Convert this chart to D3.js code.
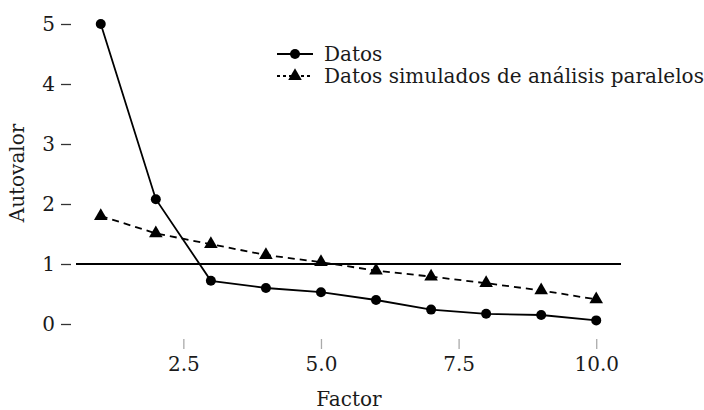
<!DOCTYPE html>
<html>
<head>
<meta charset="utf-8">
<script src="https://cdn.jsdelivr.net/npm/d3@7"></script>
<style>
  body { margin: 0; background: #fff; }
  text { font-family: "DejaVu Serif", serif; fill: #1a1a1a; }
</style>
</head>
<body>
<div id="chart"></div>
<script>
// chart data
const factors = [1, 2, 3, 4, 5, 6, 7, 8, 9, 10];
const datos = [5.0, 2.08, 0.72, 0.6, 0.53, 0.4, 0.24, 0.17, 0.15, 0.06];
const simulados = [1.8, 1.51, 1.33, 1.15, 1.03, 0.89, 0.79, 0.68, 0.56, 0.41];
const xTicks = [2.5, 5.0, 7.5, 10.0];
const yTicks = [0, 1, 2, 3, 4, 5];
const seriesNames = ["Datos", "Datos simulados de análisis paralelos"];
const criterio = 1;

const w = 704;
const h = 410;
const fs = 20;

let svg = d3.select("#chart")
  .append("svg")
  .attr("width", w)
  .attr("height", h);

// panel spans 76..621, ggplot style 5% expansion
const x = d3.scaleLinear().domain([0.55, 10.45]).range([76, 621]);
const y = d3.scaleLinear().domain([0, 5]).range([324, 24]);

// y axis: tick marks and labels
svg.append("g")
  .attr("transform", "translate(71,0)")
  .call(d3.axisLeft(y).tickValues(yTicks).tickFormat(d3.format("d")).tickSize(10).tickPadding(6))
  .call(g => g.select(".domain").remove())
  .call(g => g.selectAll("line").attr("stroke", "#333").attr("stroke-width", 1.3))
  .call(g => g.selectAll("text").attr("font-size", fs).attr("font-family", "DejaVu Serif").attr("fill", "#1a1a1a"));

// x axis
svg.append("g")
  .attr("transform", "translate(0,339)")
  .call(d3.axisBottom(x).tickValues(xTicks).tickFormat(d3.format(".1f")).tickSize(10).tickPadding(8))
  .call(g => g.select(".domain").remove())
  .call(g => g.selectAll("line").attr("stroke", "#aaa").attr("stroke-width", 1.3))
  .call(g => g.selectAll("text").attr("font-size", fs).attr("font-family", "DejaVu Serif").attr("fill", "#1a1a1a"));

// axis titles
svg.append("text")
  .attr("x", 349).attr("y", 406)
  .attr("text-anchor", "middle")
  .attr("font-size", fs)
  .text("Factor");

svg.append("text")
  .attr("transform", "translate(24,173) rotate(-90)")
  .attr("text-anchor", "middle")
  .attr("font-size", fs)
  .text("Autovalor");

// horizontal reference line at eigenvalue 1
svg.append("line")
  .attr("x1", x.range()[0]).attr("x2", x.range()[1])
  .attr("y1", y(criterio)).attr("y2", y(criterio))
  .attr("stroke", "#000")
  .attr("stroke-width", 1.8);

const line = d3.line()
  .x((d, i) => x(factors[i]))
  .y(d => y(d));

const tri = d3.symbol().type(d3.symbolTriangle).size(80);

// simulated series (dashed, triangles)
svg.append("path")
  .datum(simulados)
  .attr("d", line)
  .attr("fill", "none")
  .attr("stroke", "#000")
  .attr("stroke-width", 1.8)
  .attr("stroke-dasharray", "7,5");

svg.selectAll(".tri")
  .data(simulados)
  .enter().append("path")
  .attr("class", "tri")
  .attr("d", tri)
  .attr("transform", (d, i) => "translate(" + x(factors[i]) + "," + y(d) + ")")
  .attr("fill", "#000");

// observed series (solid, circles)
svg.append("path")
  .datum(datos)
  .attr("d", line)
  .attr("fill", "none")
  .attr("stroke", "#000")
  .attr("stroke-width", 1.8);

svg.selectAll(".dot")
  .data(datos)
  .enter().append("circle")
  .attr("class", "dot")
  .attr("cx", (d, i) => x(factors[i]))
  .attr("cy", d => y(d))
  .attr("r", 5)
  .attr("fill", "#000");

// legend
const legend = svg.append("g").attr("transform", "translate(277,54)");
seriesNames.forEach(function (name, i) {
  let row = legend.append("g").attr("transform", "translate(0," + (i * 22) + ")");
  row.append("line")
    .attr("x1", 0).attr("x2", 36)
    .attr("y1", 0).attr("y2", 0)
    .attr("stroke", "#000")
    .attr("stroke-width", 1.8)
    .attr("stroke-dasharray", i === 0 ? null : "3,3");
  if (i === 0) {
    row.append("circle").attr("cx", 18).attr("cy", 0).attr("r", 5).attr("fill", "#000");
  } else {
    row.append("path").attr("d", tri).attr("transform", "translate(18,0)").attr("fill", "#000");
  }
  row.append("text")
    .attr("x", 47).attr("y", 7)
    .attr("font-size", fs)
    .text(name);
});
</script>
</body>
</html>
